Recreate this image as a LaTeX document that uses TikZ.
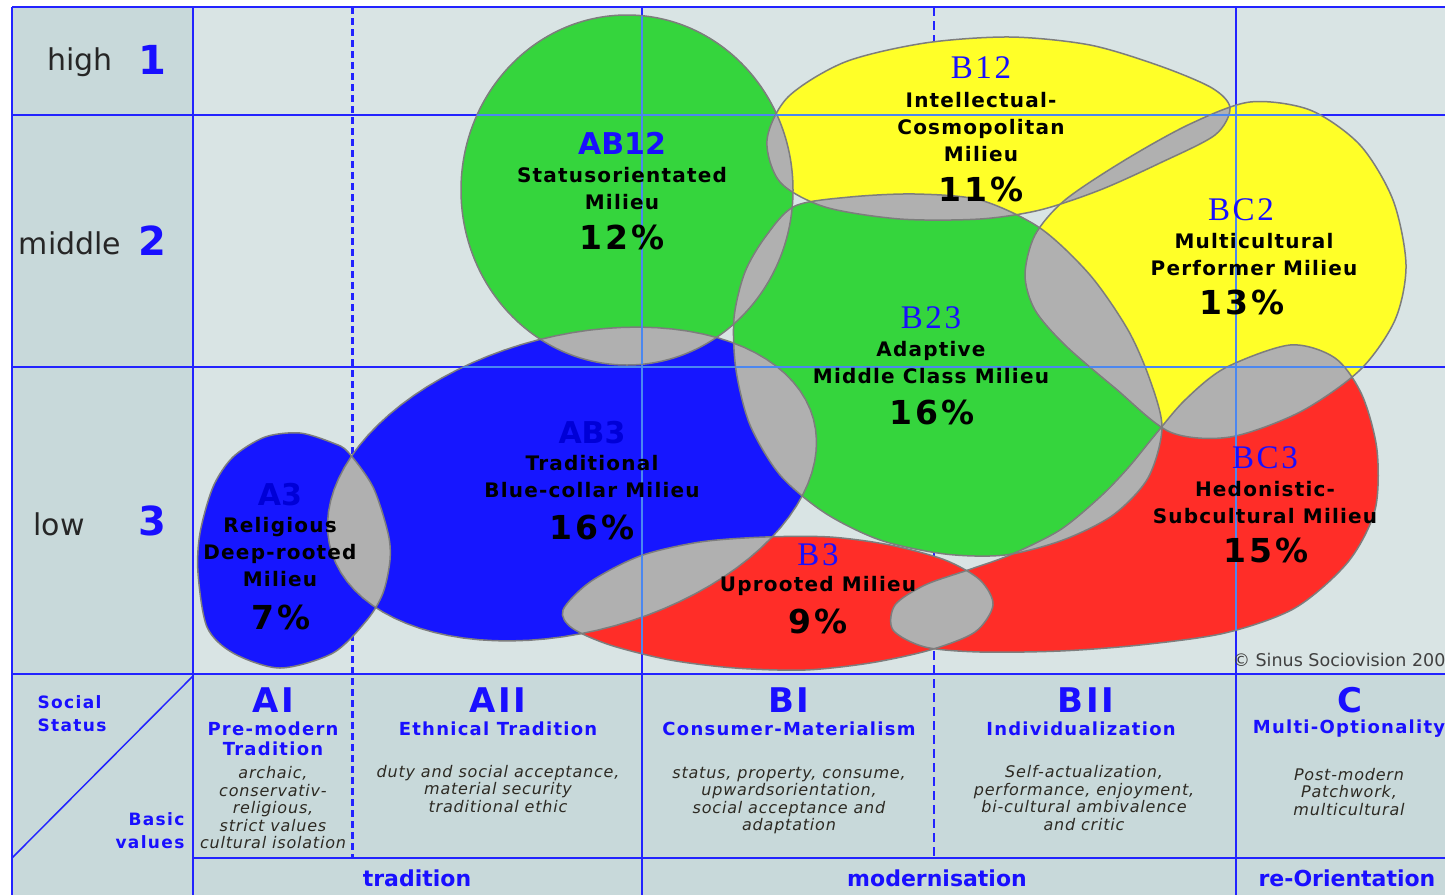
\documentclass[tikz,border=0pt]{standalone}
\usepackage{fontspec}
\setmainfont{DejaVu Sans}
\newfontfamily\codeserif{Liberation Serif}

\definecolor{panel}{RGB}{217,228,228}
\definecolor{headcell}{RGB}{200,217,218}
\definecolor{gridblue}{RGB}{35,35,255}
\definecolor{innerline}{RGB}{75,135,240}
\definecolor{milgreen}{RGB}{53,213,61}
\definecolor{milyellow}{RGB}{255,255,40}
\definecolor{milred}{RGB}{255,45,40}
\definecolor{milblue}{RGB}{22,22,255}
\definecolor{overlap}{RGB}{176,176,176}
\definecolor{rim}{RGB}{125,125,125}
\definecolor{codeblue}{RGB}{25,15,255}
\definecolor{darkcode}{RGB}{0,0,215}
\definecolor{notegray}{RGB}{45,42,35}

\newcommand*\tilted[5]{plot[domain=0:360,samples=90] ({#1+#3*cos(\x)*cos(#5)+#4*sin(\x)*sin(#5)},{#2-#3*cos(\x)*sin(#5)+#4*sin(\x)*cos(#5)}) -- cycle}
\newcommand*\milAthree{plot[smooth cycle] coordinates {(300,433) (333,443) (348,452) (373,487) (388,533) (390,560) (383,593) (367,620) (333,653) (280,668) (233,653) (207,627) (198,573) (200,533) (213,487) (233,457) (265,437)}}
\newcommand*\milABthree{\tilted{572}{484}{250}{148}{15}}
\newcommand*\milABtwelve{(627,190) ellipse [x radius=166pt, y radius=175pt]}
\newcommand*\milBtwelve{plot[smooth cycle] coordinates {(767,140) (788,97) (845,62) (925,43) (1010,37) (1090,45) (1160,66) (1212,88) (1230,108) (1215,135) (1160,163) (1100,190) (1040,210) (980,219) (900,219) (825,207) (780,182)}}
\newcommand*\milBtwentythree{plot[smooth cycle] coordinates {(795,206) (850,197) (915,194) (980,200) (1040,228) (1090,275) (1128,330) (1150,380) (1162,428) (1148,478) (1113,515) (1063,540) (1005,555) (945,554) (880,540) (825,513) (780,475) (750,425) (736,370) (734,318) (745,272) (766,236)}}
\newcommand*\milBCtwo{plot[smooth cycle] coordinates {(1025,275) (1035,235) (1065,200) (1125,160) (1190,124) (1250,102) (1310,110) (1360,145) (1393,200) (1406,265) (1395,320) (1360,370) (1300,412) (1230,437) (1170,432) (1115,388) (1065,345) (1035,310)}}
\newcommand*\milBthree{plot[smooth cycle] coordinates {(563,610) (590,582) (640,556) (700,542) (765,537) (830,537) (890,545) (945,560) (980,580) (993,605) (975,632) (930,650) (870,663) (805,670) (735,668) (670,660) (610,645) (572,628)}}
\newcommand*\milBCthree{plot[smooth cycle] coordinates {(1010,555) (1060,530) (1100,497) (1128,468) (1155,435) (1185,400) (1225,368) (1290,345) (1335,358) (1362,395) (1377,450) (1375,510) (1348,562) (1295,608) (1225,633) (1140,645) (1060,651) (980,652) (925,647) (893,630) (895,605) (925,585) (968,570)}}

\begin{document}
\begin{tikzpicture}[x=1pt,y=-1pt,
  level/.style={font=\fontsize{30}{30}\selectfont,text=black!85},
  levelno/.style={font=\fontsize{40}{40}\selectfont\bfseries,text=codeblue},
  code/.style={font=\fontsize{30}{30}\selectfont\bfseries,text=codeblue},
  scode/.style={font=\codeserif\fontsize{33}{33}\selectfont\addfontfeatures{LetterSpace=8},text=codeblue},
  mname/.style={align=center,font=\fontsize{20}{27}\selectfont\bfseries\addfontfeatures{LetterSpace=6}},
  pct/.style={font=\fontsize{33}{33}\selectfont\bfseries\addfontfeatures{LetterSpace=8}},
  colhead/.style={font=\fontsize{34}{34}\selectfont\bfseries\addfontfeatures{LetterSpace=8},text=codeblue},
  colsub/.style={align=center,font=\fontsize{18}{20}\selectfont\bfseries\addfontfeatures{LetterSpace=7},text=codeblue},
  colnote/.style={align=center,font=\fontsize{16}{17.5}\selectfont\itshape\addfontfeatures{LetterSpace=5},text=notegray},
  trend/.style={font=\fontsize{22}{22}\selectfont\bfseries,text=codeblue},
  axis/.style={font=\fontsize{17}{23}\selectfont\bfseries\addfontfeatures{LetterSpace=8},text=codeblue}]
\useasboundingbox (0,0) rectangle (1445,895);
\fill[white] (0,0) rectangle (1445,895);
\fill[headcell] (12,7) rectangle (193,674);
\fill[panel] (193,7) rectangle (1445,674);
\fill[headcell] (12,674) rectangle (1445,895);
\draw[gridblue,line width=3pt,dash pattern=on 7pt off 4pt] (352,7) -- (352,858);
\draw[gridblue,line width=2pt,dash pattern=on 9pt off 5pt] (934,7) -- (934,858);
\draw[gridblue,line width=2pt] (12,7) -- (1445,7) (12,7) -- (12,895)
  (12,115) -- (1445,115) (12,367) -- (1445,367) (12,674) -- (1445,674) (193,858) -- (1445,858)
  (193,7) -- (193,895) (642,7) -- (642,895) (1236,7) -- (1236,895);
\draw[gridblue,line width=1.5pt] (193,676) -- (12,858);

\fill[milblue] \milAthree;
\fill[milblue] \milABthree;
\fill[milgreen] \milABtwelve;
\fill[milgreen] \milBtwentythree;
\fill[milyellow] \milBtwelve;
\fill[milyellow] \milBCtwo;
\fill[milred] \milBthree;
\fill[milred] \milBCthree;
\foreach \a/\b in {\milAthree/\milABthree,\milABthree/\milABtwelve,\milABthree/\milBtwentythree,
  \milABthree/\milBthree,\milABtwelve/\milBtwentythree,\milABtwelve/\milBtwelve,
  \milBtwelve/\milBtwentythree,\milBtwelve/\milBCtwo,\milBtwentythree/\milBCtwo,
  \milBtwentythree/\milBCthree,\milBtwentythree/\milBthree,\milBCtwo/\milBCthree,\milBthree/\milBCthree}{
  \begin{scope}
    \clip \a;
    \fill[overlap] \b;
  \end{scope}
}
\foreach \s in {\milAthree,\milABthree,\milABtwelve,\milBtwentythree,\milBtwelve,\milBCtwo,\milBthree,\milBCthree}{
  \draw[rim,line width=1.5pt] \s;
  \begin{scope}
    \clip \s;
    \draw[innerline,line width=1.5pt] (12,115) -- (1445,115) (12,367) -- (1445,367) (642,7) -- (642,674) (1236,7) -- (1236,674);
  \end{scope}
}

\node[level] (high) at (80,62) {high};
\node[levelno] (one) at (152,60) {1};
\node[level] (middle) at (70,243) {middle};
\node[levelno] (two) at (152,241) {2};
\node[level] (low) at (59,524) {low};
\node[levelno] (three) at (152,521) {3};

\node[code] (ab12code) at (622,143) {AB12};
\node[mname] (ab12name) at (622,188.5) {Statusorientated\\Milieu};
\node[pct] (ab12pct) at (622,237) {12\%};
\node[scode] (b12code) at (981,68) {B12};
\node[mname] (b12name) at (981,127) {Intellectual-\\Cosmopolitan\\Milieu};
\node[pct] (b12pct) at (981,189) {11\%};
\node[scode] (bc2code) at (1241,210) {BC2};
\node[mname] (bc2name) at (1254,254.5) {Multicultural\\Performer Milieu};
\node[pct] (bc2pct) at (1242,302) {13\%};
\node[scode] (b23code) at (931,318) {B23};
\node[mname] (b23name) at (931,362.5) {Adaptive\\Middle Class Milieu};
\node[pct] (b23pct) at (932,412) {16\%};
\node[code,text=darkcode] (ab3code) at (592,433) {AB3};
\node[mname] (ab3name) at (592,476.5) {Traditional\\Blue-collar Milieu};
\node[pct] (ab3pct) at (592,527) {16\%};
\node[code,text=darkcode] (a3code) at (280,495) {A3};
\node[mname] (a3name) at (280,552) {Religious\\Deep-rooted\\Milieu};
\node[pct] (a3pct) at (281,617) {7\%};
\node[scode] (b3code) at (818,555) {B3};
\node[mname] (b3name) at (818,586) {Uprooted Milieu};
\node[pct] (b3pct) at (818,621) {9\%};
\node[scode] (bc3code) at (1265,458) {BC3};
\node[mname] (bc3name) at (1265,502.5) {Hedonistic-\\Subcultural Milieu};
\node[pct] (bc3pct) at (1266,550) {15\%};
\node[anchor=west,font=\fontsize{17.5}{17.5}\selectfont,text=black!75] (copy) at (1229,660) {© Sinus Sociovision 200};

\node[axis,anchor=west,align=left] (status) at (34,713.5) {Social\\Status};
\node[axis,anchor=east,align=right] (basic) at (188,830.5) {Basic\\values};

\node[colhead] (ai) at (273,700) {AI};
\node[colsub] (aisub) at (273,739) {Pre-modern\\Tradition};
\node[colnote] (ainote) at (273,808) {archaic,\\conservativ-\\religious,\\strict values\\cultural isolation};
\node[colhead] (aii) at (498,700) {AII};
\node[colsub] (aiisub) at (498,729) {Ethnical Tradition};
\node[colnote] (aiinote) at (498,789) {duty and social acceptance,\\material security\\traditional ethic};
\node[colhead] (bi) at (789,700) {BI};
\node[colsub] (bisub) at (789,729) {Consumer-Materialism};
\node[colnote] (binote) at (789,800.5) {status, property, consume,\\upwardsorientation,\\social acceptance and\\adaptation};
\node[colhead] (bii) at (1086,700) {BII};
\node[colsub] (biisub) at (1081,729) {Individualization};
\node[colnote] (biinote) at (1084,798) {Self-actualization,\\performance, enjoyment,\\bi-cultural ambivalence\\and critic};
\node[colhead] (c) at (1350,700) {C};
\node[colsub] (csub) at (1349,729) {Multi-Optionality};
\node[colnote] (cnote) at (1349,792) {Post-modern\\Patchwork,\\multicultural};

\node[trend] (tradition) at (417,878) {tradition};
\node[trend] (modern) at (937,878) {modernisation};
\node[trend] (reorient) at (1347,878) {re-Orientation};
\end{tikzpicture}
\end{document}
